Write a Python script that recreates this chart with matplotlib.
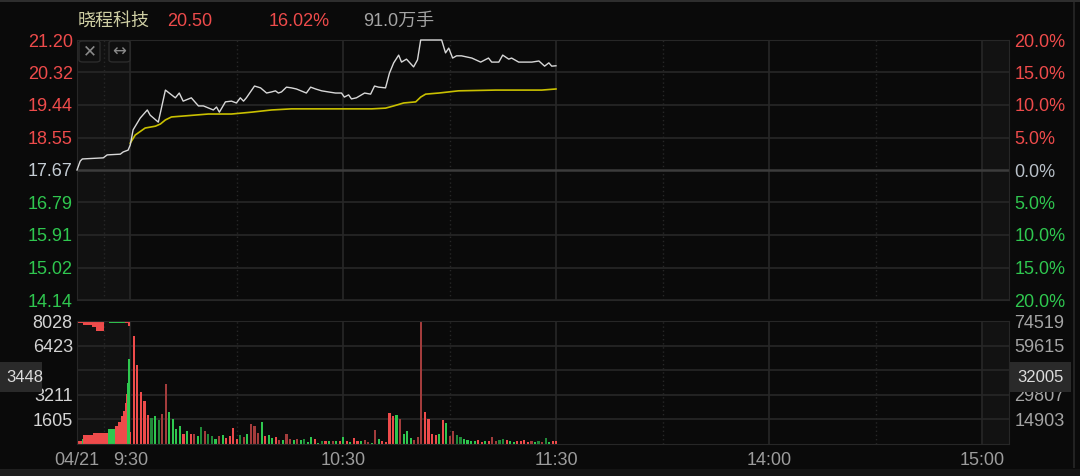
import matplotlib.pyplot as plt
from matplotlib.patches import Rectangle, FancyBboxPatch

plt.rcParams['font.family'] = ['Liberation Sans', 'Noto Sans CJK SC', 'DejaVu Sans']

# ---- data (t = minutes after 9:15, afternoon squeezed in after 11:30) ----
prev_close = 17.67
price_ticks = [21.20, 20.32, 19.44, 18.55, 17.67, 16.79, 15.91, 15.02, 14.14]
pct_labels = ['20.0%', '15.0%', '10.0%', '5.0%', '0.0%', '5.0%', '10.0%', '15.0%', '20.0%']

time_ticks = [0, 15, 75, 135, 195, 255]
time_labels = ['04/21', '9:30', '10:30', '11:30', '14:00', '15:00']

price_t = [0, 0.9, 1.5, 7.4, 8.5, 12.2, 13.0, 14.4, 15, 15.8, 17.8, 19.8, 20.6, 22.9, 24.9, 27.7,
           28.8, 29.9, 32.2, 34.2, 35.6, 38.4, 39.3, 40.1, 41.8, 43.5, 44.9, 46.0, 46.9, 47.7,
           50.0, 51.7, 53.4, 54.8, 55.9, 56.7, 57.6, 59.0, 60.4, 61.8, 64.6, 65.8, 67.2, 68.9,
           70.8, 72.8, 74.5, 75.3, 76.5, 77.3, 78.7, 81.0, 82.7, 83.8, 84.9, 86.9, 88.0, 89.2,
           90.6, 91.4, 92.8, 94.8, 95.9, 96.8, 102.7, 103.8, 104.7, 105.8, 106.9, 108.3, 111.2,
           113.7, 115.9, 116.8, 118.8, 119.9, 121.6, 122.4, 124.4, 128.1, 130.1, 131.7, 132.9,
           133.7, 134.9]
price_v = [17.67, 17.91, 17.97, 18.00, 18.08, 18.10, 18.16, 18.21, 18.35, 18.76, 19.08, 19.30,
           19.16, 18.97, 19.84, 19.63, 19.76, 19.54, 19.63, 19.41, 19.41, 19.30, 19.38, 19.24,
           19.52, 19.54, 19.49, 19.63, 19.54, 19.63, 19.95, 19.90, 19.76, 19.79, 19.82, 19.76,
           19.79, 19.92, 19.90, 19.87, 19.76, 19.92, 19.87, 19.82, 19.79, 19.76, 19.76, 19.65,
           19.71, 19.60, 19.63, 19.76, 19.73, 19.95, 19.92, 19.90, 20.30, 20.58, 20.79, 20.60,
           20.68, 20.47, 20.66, 21.20, 21.20, 20.85, 20.98, 20.71, 20.77, 20.77, 20.71, 20.60,
           20.71, 20.60, 20.60, 20.79, 20.68, 20.71, 20.60, 20.60, 20.63, 20.49, 20.58, 20.49,
           20.50]

avg_t = [15, 16.4, 19.2, 22.1, 23.5, 24.9, 26.6, 30.5, 37.0, 43.5, 49.1, 54.8, 60.4, 70.0, 83.0,
         86.9, 89.2, 92.0, 95.4, 96.8, 98.2, 101.9, 104.7, 107.5, 117.9, 130.9, 134.9]
avg_v = [18.40, 18.62, 18.81, 18.86, 18.92, 19.03, 19.11, 19.14, 19.19, 19.19, 19.24, 19.30,
         19.33, 19.33, 19.33, 19.35, 19.41, 19.49, 19.52, 19.65, 19.73, 19.76, 19.79, 19.82,
         19.84, 19.84, 19.87]

# one bar per minute, 9:30 .. 11:30 ; colour code r/R red bright/dim, g/G green bright/dim
vol_t = list(range(15, 136))
vol_v = [783, 7028, 5157, 3373, 2785, 1893, 1697, 1850, 1545, 1958, 3917, 2067, 1632, 979, 1197,
         653, 827, 675, 653, 544, 1088, 827, 653, 500, 348, 500, 566, 392, 500, 1044, 348, 609,
         457, 653, 1306, 1197, 718, 1436, 500, 566, 392, 457, 261, 239, 653, 348, 239, 348, 261,
         348, 131, 457, 348, 87, 218, 196, 218, 196, 196, 200, 457, 174, 131, 392, 174, 196, 239,
         131, 87, 914, 305, 196, 131, 2024, 1850, 1871, 1632, 653, 870, 392, 261, 457, 8028,
         2067, 1632, 631, 609, 653, 1588, 1349, 500, 827, 609, 457, 326, 261, 196, 196, 261, 131,
         196, 196, 457, 196, 261, 326, 261, 196, 131, 196, 196, 261, 131, 196, 131, 196, 131,
         392, 131, 196, 174]
vol_c = list('rrrrrrGgGRRggggrgrRgGRGGgRgrrrrGRgRRRgrggrRgRRgRgGggrgGrgRgr'
             'grgrrgRRgRgrrrrgRgggRRRrrrrgrgRRGGggggrrgrRRGGrggrrrrRgGRGg')

# pre-market auction: matched volume from the bottom, unmatched hanging from the top
pre_t = [0, 1.3, 1.8, 4.6, 8.3, 8.6, 10.2, 10.7, 11.6, 12.5, 13.0, 13.5, 13.9, 14.2, 14.5, 14.8]
pre_v = [196, 348, 566, 696, 740, 957, 957, 1175, 1436, 1828, 2154, 2698, 3242, 4004, 5527, 8028]
pre_c = list('rgrrrggrrrrrrggg')
pre_top_t = [0, 1.8, 4.2, 5.4, 7.7, 9.0, 13.5, 14.3, 14.8]
pre_top_v = [150, 260, 370, 650, 80, 150, 150, 330, 150]
pre_top_c = list('rrrrrgrrg')

# the middle labels sit under the cursor boxes in the picture
vol_left = ['8028', '6423', '', '3211', '1605']
vol_right = ['74519', '59615', '', '29807', '14903']

# ---- styling ----
W, H = 1080, 476
BG = '#0a0a0a'
GRID = '#272727'
RED = '#ee4b4b'
GREEN = '#2fc74f'
COLS = {'r': '#ee4b4b', 'R': '#a33c3c', 'g': '#2fc74f', 'G': '#218a39'}


def fx(x):
    return x / W


def fy(y):
    return 1 - y / H


fig = plt.figure(figsize=(10.8, 4.76), dpi=100, facecolor=BG)
ax = fig.add_axes([fx(77), fy(300), 932 / W, 260 / H], facecolor=BG)
axv = fig.add_axes([fx(77), fy(444), 932 / W, 123 / H], facecolor=BG)

for a in (ax, axv):
    a.set_xlim(0, 262.5)
    a.axvspan(0, 15, color='#111111', zorder=0)
    a.axvspan(255, 262.5, color='#121212', zorder=0)
    for t in [15, 75, 135, 195, 255]:
        a.axvline(t, color=GRID, lw=1.2, zorder=1)
    for t in [7.5, 45, 105, 165, 225]:
        a.axvline(t, color=GRID, lw=1, ls=(0, (1, 2)), zorder=1)
    for s in a.spines.values():
        s.set_color(GRID)
    a.tick_params(length=0, labelsize=13)

# price panel
ax.set_ylim(14.14, 21.20)
for p in price_ticks:
    if p == prev_close:
        ax.axhline(p, color='#3c3c3c', lw=1.8, zorder=1)
    else:
        ax.axhline(p, color=GRID, lw=1.2, zorder=1)
ax.plot(price_t, price_v, color='#d8d8d8', lw=1.0, zorder=3, clip_on=False)
ax.plot(avg_t, avg_v, color='#c9c000', lw=1.2, zorder=2)
ax.set_xticks([])
ax.set_yticks(price_ticks)
ax.set_yticklabels([f'{p:.2f}' for p in price_ticks])
ax.tick_params(axis='y', pad=3)
for lab, p in zip(ax.get_yticklabels(), price_ticks):
    lab.set_color(RED if p > prev_close else ('#c4ccd4' if p == prev_close else GREEN))

ax2 = ax.twinx()
ax2.set_ylim(ax.get_ylim())
ax2.set_yticks(price_ticks)
ax2.set_yticklabels(pct_labels)
ax2.tick_params(length=0, labelsize=13, pad=4)
for s in ax2.spines.values():
    s.set_visible(False)
for lab, p in zip(ax2.get_yticklabels(), price_ticks):
    lab.set_color(RED if p > prev_close else ('#b8c0c8' if p == prev_close else GREEN))

# volume panel
vmax = 8028
axv.set_ylim(0, vmax)
vgrid = [vmax * k / 5 for k in range(5, 0, -1)]
for v in vgrid:
    axv.axhline(v, color=GRID, lw=1.2, zorder=1)
axv.bar(vol_t, vol_v, width=0.6, linewidth=0, color=[COLS[c] for c in vol_c], zorder=2)

pre_w = [b - a for a, b in zip(pre_t, pre_t[1:] + [15])]
axv.bar(pre_t, pre_v, width=pre_w, align='edge', linewidth=0,
        color=[COLS[c] for c in pre_c], zorder=2)
top_w = [b - a for a, b in zip(pre_top_t, pre_top_t[1:] + [15])]
axv.bar(pre_top_t, pre_top_v, width=top_w, bottom=[vmax - v for v in pre_top_v], align='edge',
        linewidth=0, color=[COLS[c] for c in pre_top_c], zorder=2)

axv.set_yticks(vgrid)
axv.set_yticklabels(vol_left, color='#d4d4d4')
axv.tick_params(axis='y', pad=3)
axv.set_xticks(time_ticks)
axv.set_xticklabels(time_labels, color='#9c9c9c')
axv.tick_params(axis='x', pad=6)

axv2 = axv.twinx()
axv2.set_ylim(0, vmax)
axv2.set_yticks(vgrid)
axv2.set_yticklabels(vol_right, color='#a4a4a4')
axv2.tick_params(length=0, labelsize=13, pad=4)
for s in axv2.spines.values():
    s.set_visible(False)

# header
fig.text(fx(78), fy(21), '晓程科技', color='#cfcfa4', fontsize=13, va='center')
fig.text(fx(167), fy(21), '20.50', color=RED, fontsize=13, va='center')
fig.text(fx(269), fy(21), '16.02%', color=RED, fontsize=13, va='center')
fig.text(fx(363), fy(21), '91.0万手', color='#a4a4a4', fontsize=13, va='center')

# small buttons in the price panel
for x0, sym in [(79, '✕'), (109, '↔')]:
    fig.add_artist(FancyBboxPatch((fx(x0), fy(62)), 21 / W, 21 / H,
                                  boxstyle='round,pad=0,rounding_size=0.004',
                                  transform=fig.transFigure, facecolor='#0f0f0f',
                                  edgecolor='#2c2c2c', lw=1, zorder=5))
    fig.text(fx(x0 + 10.5), fy(51.5), sym, color='#8a8a8a', fontsize=12,
             ha='center', va='center', family=['DejaVu Sans'], zorder=6)

# cross-hair value boxes
for x0, w, cx, txt in [(0, 42, 25, '3448'), (1010, 61, 1040, '32005')]:
    fig.add_artist(Rectangle((fx(x0), fy(392)), w / W, 30 / H, transform=fig.transFigure,
                             facecolor='#2a2a2a', edgecolor='none', zorder=10))
    fig.text(fx(cx), fy(377), txt, color='#dcdcdc', fontsize=12,
             ha='center', va='center', zorder=11)

# frame bits
fig.add_artist(Rectangle((0, fy(2)), 1, 2 / H, transform=fig.transFigure,
                         facecolor='#2e2e2e', edgecolor='none'))
fig.add_artist(Rectangle((fx(1073), fy(468)), 2 / W, 466 / H, transform=fig.transFigure,
                         facecolor='#222222', edgecolor='none'))
fig.add_artist(Rectangle((0, 0), 1, 7 / H, transform=fig.transFigure,
                         facecolor='#141414', edgecolor='none'))
fig.add_artist(Rectangle((0, 0), 140 / W, 7 / H, transform=fig.transFigure,
                         facecolor='#1f1f1f', edgecolor='none'))

fig.savefig('out.png', dpi=100, facecolor=BG)
